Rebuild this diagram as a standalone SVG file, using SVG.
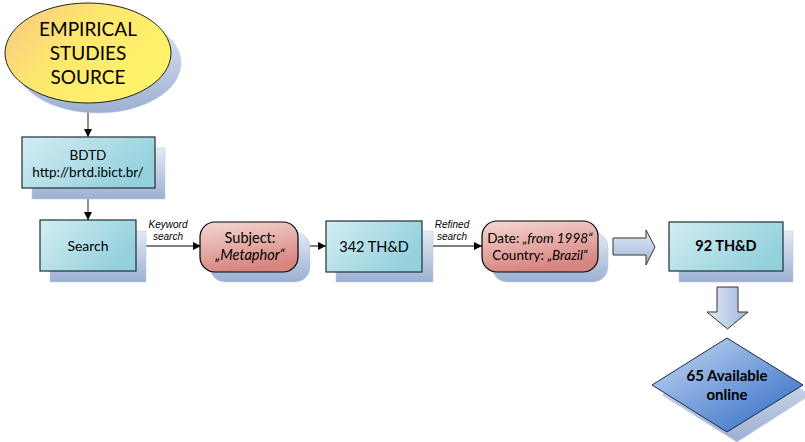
<svg xmlns="http://www.w3.org/2000/svg" width="805" height="442" viewBox="0 0 805 442">
<defs>
<linearGradient id="gYellow" x1="0" y1="0" x2="1" y2="0.6">
<stop offset="0" stop-color="#f8c586"/>
<stop offset="0.45" stop-color="#fde66f"/>
<stop offset="1" stop-color="#fff46a"/>
</linearGradient>
<linearGradient id="gShadow" x1="0" y1="0" x2="0" y2="1">
<stop offset="0" stop-color="#e4eaf4"/>
<stop offset="1" stop-color="#9cb0d2"/>
</linearGradient>
<linearGradient id="gTeal" x1="0" y1="0" x2="1" y2="0.5">
<stop offset="0" stop-color="#d4edf3"/>
<stop offset="1" stop-color="#94d1dd"/>
</linearGradient>
<linearGradient id="gPink" x1="0" y1="0" x2="0.3" y2="1">
<stop offset="0" stop-color="#f6d8d3"/>
<stop offset="1" stop-color="#d7857f"/>
</linearGradient>
<linearGradient id="gBlue" x1="0" y1="0" x2="1" y2="1">
<stop offset="0" stop-color="#c9dbf2"/>
<stop offset="1" stop-color="#2a66c4"/>
</linearGradient>
<linearGradient id="gArrowH" x1="0" y1="0" x2="0" y2="1">
<stop offset="0" stop-color="#e2eaf5"/>
<stop offset="1" stop-color="#9fb6da"/>
</linearGradient>
<linearGradient id="gArrowV" x1="0" y1="0" x2="1" y2="0">
<stop offset="0" stop-color="#e2eaf5"/>
<stop offset="1" stop-color="#9fb6da"/>
</linearGradient>
<marker id="arr" viewBox="0 0 10 10" refX="10" refY="5" markerWidth="8" markerHeight="8" markerUnits="userSpaceOnUse" orient="auto">
<path d="M0,0 L10,5 L0,10 z" fill="#000"/>
</marker>
</defs>
<style>
.sh{fill:url(#gShadow);stroke:#b8c6de;stroke-width:0.5}
.teal{fill:url(#gTeal);stroke:#1f2f33;stroke-width:1.2}
.pink{fill:url(#gPink);stroke:#000;stroke-width:1.2}
.t{font-family:Lato,"Liberation Sans",sans-serif;fill:#000;text-anchor:middle}
.lbl{font-family:"Liberation Sans",Arial,sans-serif;font-style:italic;font-size:10px;fill:#000;text-anchor:middle}
.conn{stroke:#000;stroke-width:1;fill:none;marker-end:url(#arr)}
.connv{stroke:#444;stroke-width:1.2;fill:none;marker-end:url(#arr)}
.barrow{stroke:#333;stroke-width:1}
</style>

<g id="connectors">
<line class="connv" x1="88" y1="103" x2="88" y2="137"/>
<line class="connv" x1="88" y1="188" x2="88" y2="220"/>
<line class="conn" x1="136" y1="246" x2="201" y2="246"/>
<line class="conn" x1="298" y1="246" x2="326" y2="246"/>
<line class="conn" x1="422" y1="246" x2="482" y2="246"/>
<text class="lbl" x="168" y="228">Keyword</text>
<text class="lbl" x="168" y="240">search</text>
<text class="lbl" x="452" y="228">Refined</text>
<text class="lbl" x="452" y="240">search</text>
<path id="arrowRight" class="barrow" fill="url(#gArrowH)" d="M613,238 L646,238 L646,230 L655,247 L646,265 L646,255 L613,255 Z"/>
<path id="arrowDown" class="barrow" fill="url(#gArrowV)" d="M717,287 L738,287 L738,312 L748,312 L727.5,329 L707,312 L717,312 Z"/>
</g>

<g id="source">
<ellipse class="sh" cx="98" cy="63" rx="83" ry="50"/>
<ellipse cx="88" cy="53" rx="83" ry="50" fill="url(#gYellow)" stroke="#222" stroke-width="1"/>
<text class="t" font-size="19" x="88" y="36">EMPIRICAL</text>
<text class="t" font-size="19" x="88" y="60">STUDIES</text>
<text class="t" font-size="19" x="88" y="84">SOURCE</text>
</g>

<g id="bdtd">
<rect class="sh" x="32" y="148" width="133" height="51"/>
<rect class="teal" x="22" y="137" width="133" height="51"/>
<text class="t" font-size="13.5" x="88" y="160">BDTD</text>
<text class="t" font-size="13.5" x="88" y="177">http://brtd.ibict.br/</text>
</g>

<g id="search">
<rect class="sh" x="50" y="231" width="96" height="51"/>
<rect class="teal" x="40" y="220" width="96" height="51"/>
<text class="t" font-size="14" x="88" y="251">Search</text>
</g>

<g id="subject">
<rect class="sh" x="210" y="232" width="100" height="50" rx="15"/>
<rect class="pink" x="200" y="222" width="98" height="50" rx="15"/>
<text class="t" font-size="14.5" x="250" y="243">Subject:</text>
<text class="t" font-size="14.5" x="250" y="260" font-style="italic">„Metaphor“</text>
</g>

<g id="th342">
<rect class="sh" x="336" y="231" width="97" height="51"/>
<rect class="teal" x="326" y="221" width="96" height="51"/>
<text class="t" font-size="14.5" x="374" y="252">342 TH&amp;D</text>
</g>

<g id="filters">
<rect class="sh" x="492" y="232" width="116" height="50" rx="15"/>
<rect class="pink" x="482" y="221" width="116" height="51" rx="15"/>
<text class="t" font-size="13.5" x="540" y="243">Date: <tspan font-style="italic">„from 1998“</tspan></text>
<text class="t" font-size="13.5" x="540" y="260">Country: <tspan font-style="italic">„Brazil“</tspan></text>
</g>

<g id="th92">
<rect class="sh" x="679" y="231" width="114" height="51"/>
<rect class="teal" x="669" y="222" width="114" height="49"/>
<text class="t" font-size="14.5" font-weight="bold" x="726" y="251">92 TH&amp;D</text>
</g>

<g id="online">
<polygon class="sh" points="737,348 810,395 737,442 662,395"/>
<polygon points="727,338 803,385 727,432 652,385" fill="url(#gBlue)" stroke="#1b2a44" stroke-width="1"/>
<text class="t" font-size="15" font-weight="bold" x="727" y="381">65 Available</text>
<text class="t" font-size="15" font-weight="bold" x="727" y="400">online</text>
</g>
</svg>
